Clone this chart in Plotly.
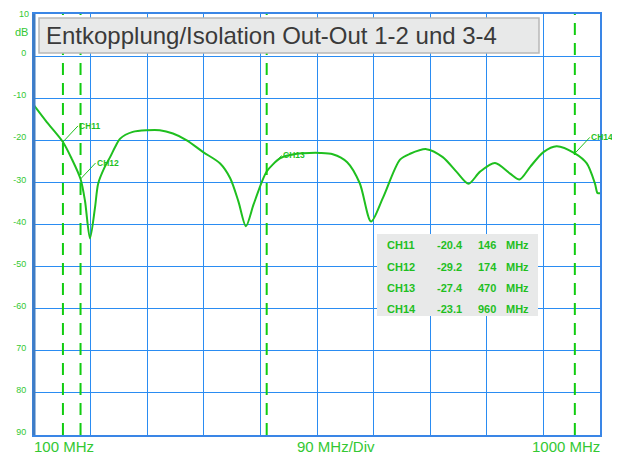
import plotly.graph_objects as go

# ---- data ----
freq_mhz = [100, 120, 146, 160, 174, 181, 189, 197, 202, 212, 221, 229, 237, 257, 280, 300,
            321, 343, 369, 396, 412, 425, 437, 449, 462, 470, 491, 507, 528, 555, 575, 598,
            618, 636, 655, 682, 698, 724, 750, 772, 791, 809, 833, 857, 872, 889, 910, 931,
            960, 979, 992, 996, 1000]
isolation_db = [-11.7, -15.6, -20.4, -24.4, -29.2, -34.3, -43.3, -36.0, -30.3, -26.5, -24.0, -21.6,
                -19.6, -18.0, -17.6, -17.6, -18.4, -20.0, -22.8, -25.5, -29.0, -34.5, -40.4, -35.3,
                -30.0, -27.4, -24.3, -23.5, -23.1, -23.0, -23.3, -25.2, -30.2, -39.3, -33.6, -24.6,
                -23.2, -22.1, -24.0, -27.5, -30.3, -27.5, -25.4, -27.9, -29.3, -26.3, -22.8, -21.4,
                -23.1, -25.5, -30.3, -32.5, -32.6]

marker_names = ["CH11", "CH12", "CH13", "CH14"]
marker_freq = [146, 174, 470, 960]
marker_level = [-20.4, -29.2, -27.4, -23.1]

y_tick_vals = [10, 0, -10, -20, -30, -40, -50, -60, -70, -80, -90]
y_tick_text = ["10", "0", "-10", "-20", "-30", "-40", "-50", "-60", "70", "80", "90"]

title_text = "Entkopplung/Isolation Out-Out 1-2 und 3-4"
x_labels = ["100 MHz", "90 MHz/Div", "1000 MHz"]

# ---- layout helpers (viewport pixel -> paper); page body has an 8px margin ----
OFF = 8
W, H = 620 - OFF, 455 - OFF
PL, PR, PT, PB = 34, 600, 14, 435          # plot area in viewport pixels
L, R, T, B = PL - OFF, W - (PR - OFF), PT - OFF, H - (PB - OFF)
PW, PH = PR - PL, PB - PT


def px(xp):
    return (xp - PL) / PW


def py(yp):
    return (PB - yp) / PH


GREEN_LINE = "#1fbf1f"
GREEN_TXT = "#33c833"
GREEN_DASH = "#11cc11"
GRID = "#2a8cf2"
FONT = "Liberation Sans, Arial, sans-serif"

fig = go.Figure()
fig.add_trace(go.Scatter(x=freq_mhz, y=isolation_db, mode="lines",
                         line=dict(color=GREEN_LINE, width=2, shape="spline", smoothing=0.8),
                         hoverinfo="skip", showlegend=False))

shapes = []
# marker dashed lines
for f in marker_freq:
    shapes.append(dict(type="line", xref="x", yref="paper", x0=f, x1=f, y0=0, y1=1,
                       line=dict(color=GREEN_DASH, width=2, dash="12px,8px")))
# left thick axis
shapes.append(dict(type="line", xref="paper", yref="paper", x0=0, x1=0, y0=0, y1=1,
                   line=dict(color="#3f7cc4", width=3)))
# title box
shapes.append(dict(type="rect", xref="paper", yref="paper", x0=px(39), x1=px(539),
                   y0=py(53), y1=py(18), fillcolor="#e8e9e9",
                   line=dict(color="#b8b8b8", width=1.5), layer="above"))
# table box
shapes.append(dict(type="rect", xref="paper", yref="paper", x0=px(377), x1=px(538),
                   y0=py(316), y1=py(234), fillcolor="#e8e9e9",
                   line=dict(width=0), layer="above"))

annotations = []
annotations.append(dict(xref="paper", yref="paper", x=px(45), y=py(35), text=title_text,
                        showarrow=False, xanchor="left", yanchor="middle", borderpad=0,
                        font=dict(family=FONT, size=24, color="#3a3a3a")))
annotations.append(dict(xref="paper", yref="paper", x=px(29), y=py(32), text="dB",
                        showarrow=False, xanchor="right", yanchor="middle", borderpad=0,
                        font=dict(family=FONT, size=11, color=GREEN_TXT)))
# top tick label (drawn as annotation so it stays inside the figure)
annotations.append(dict(xref="paper", yref="paper", x=px(30), y=py(8), text=y_tick_text[0],
                        showarrow=False, xanchor="right", yanchor="top", borderpad=0,
                        font=dict(family=FONT, size=9, color=GREEN_TXT)))
# x labels
annotations.append(dict(xref="paper", yref="paper", x=px(33), y=py(446), text=x_labels[0],
                        showarrow=False, xanchor="left", yanchor="middle", borderpad=0,
                        font=dict(family=FONT, size=15, color=GREEN_TXT)))
annotations.append(dict(xref="paper", yref="paper", x=px(336), y=py(446), text=x_labels[1],
                        showarrow=False, xanchor="center", yanchor="middle", borderpad=0,
                        font=dict(family=FONT, size=15, color=GREEN_TXT)))
annotations.append(dict(xref="paper", yref="paper", x=px(601), y=py(446), text=x_labels[2],
                        showarrow=False, xanchor="right", yanchor="middle", borderpad=0,
                        font=dict(family=FONT, size=15, color=GREEN_TXT)))
# marker labels
for name, f, lv in zip(marker_names, marker_freq, marker_level):
    annotations.append(dict(x=f, y=lv, xref="x", yref="y", text="<b>" + name + "</b>",
                            showarrow=True, arrowhead=0, arrowwidth=1, arrowcolor=GREEN_LINE,
                            ax=15, ay=-16, xanchor="left", yanchor="middle", borderpad=0,
                            font=dict(family=FONT, size=8.5, color=GREEN_LINE)))
# table
row_y = [245, 266.5, 287.5, 308.5]
for i, (name, f, lv) in enumerate(zip(marker_names, marker_freq, marker_level)):
    cells = [(386, name), (436, f"{lv:.1f}"), (477, f"{f}"), (505, "MHz")]
    for xp, txt in cells:
        annotations.append(dict(xref="paper", yref="paper", x=px(xp), y=py(row_y[i]),
                                text="<b>" + txt + "</b>", showarrow=False, borderpad=0,
                                xanchor="left", yanchor="middle",
                                font=dict(family=FONT, size=11, color=GREEN_LINE)))

fig.update_layout(
    width=W, height=H, margin=dict(l=L, r=R, t=T, b=B, pad=0, autoexpand=False),
    paper_bgcolor="white", plot_bgcolor="white",
    shapes=shapes, annotations=annotations, showlegend=False,
    xaxis=dict(range=[100, 1000], tick0=100, dtick=90, showgrid=True, gridcolor=GRID,
               gridwidth=1, showticklabels=False, ticks="", zeroline=False, automargin=False,
               showline=True, mirror=True, linecolor="#3a86e6", linewidth=2, fixedrange=True),
    yaxis=dict(range=[-90, 10], tickvals=y_tick_vals[1:], ticktext=y_tick_text[1:],
               showgrid=True, gridcolor=GRID, gridwidth=1, ticks="", zeroline=False,
               showline=True, mirror=True, automargin=False, ticklabeloverflow="allow",
               linecolor="#3a86e6", linewidth=2, ticklabelshift=-3, ticklabelstandoff=4,
               tickfont=dict(family=FONT, size=9, color=GREEN_TXT), fixedrange=True),
)

fig.write_html("out.html")
